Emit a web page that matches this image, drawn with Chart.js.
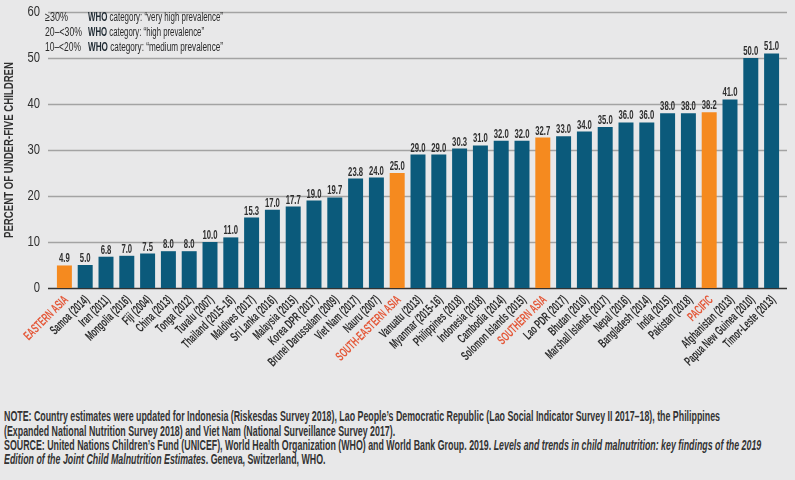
<!DOCTYPE html>
<html>
<head>
<meta charset="utf-8">
<script src="https://cdn.jsdelivr.net/npm/chart.js@4.4.1/dist/chart.umd.min.js"></script>
<style>
  html, body { margin: 0; padding: 0; background: #e8e8e9; }
  body { width: 795px; height: 480px; position: relative; overflow: hidden;
         font-family: 'Liberation Sans', Arial, sans-serif; color: #2f2f2f; }
  #wrap { position: absolute; left: 0; top: 0; width: 795px; height: 385px; }
  .sq { position: absolute; white-space: nowrap; transform-origin: 0 0; }
  .leg { font-size: 12.5px; line-height: 13px; color: #2a2a2a; }
  .leg b { font-weight: bold; color: #1f2a33; }
  .note { font-size: 14px; line-height: 15px; color: #333; font-weight: bold; left: 4px; }
  .note i { font-weight: bold; }
</style>
</head>
<body>
<div id="wrap"><canvas id="chart"></canvas></div>

<div class="sq leg" data-w="23" style="left:45px; top:11px">≥30%</div>
<div class="sq leg" data-w="135" style="left:88px; top:11px"><b>WHO</b> category: “very high prevalence”</div>
<div class="sq leg" data-w="37" style="left:45px; top:26px">20–&lt;30%</div>
<div class="sq leg" data-w="116" style="left:88px; top:26px"><b>WHO</b> category: “high prevalence”</div>
<div class="sq leg" data-w="36" style="left:45px; top:41px">10–&lt;20%</div>
<div class="sq leg" data-w="135" style="left:88px; top:41px"><b>WHO</b> category: “medium prevalence”</div>

<div class="sq note" id="n1" style="top:409px">NOTE: Country estimates were updated for Indonesia (Riskesdas Survey 2018), Lao People’s Democratic Republic (Lao Social Indicator Survey II 2017–18), the Philippines</div>
<div class="sq note" style="top:423.5px">(Expanded National Nutrition Survey 2018) and Viet Nam (National Surveillance Survey 2017).</div>
<div class="sq note" style="top:438px">SOURCE: United Nations Children’s Fund (UNICEF), World Health Organization (WHO) and World Bank Group. 2019. <i>Levels and trends in child malnutrition: key findings of the 2019</i></div>
<div class="sq note" style="top:452px"><i>Edition of the Joint Child Malnutrition Estimates</i>. Geneva, Switzerland, WHO.</div>

<script>
// categories, left to right
const categories = [
  'EASTERN ASIA', 'Samoa (2014)', 'Iran (2011)', 'Mongolia (2016)', 'Fiji (2004)', 'China (2013)',
  'Tonga (2012)', 'Tuvalu (2007)', 'Thailand (2015–16)', 'Maldives (2017)', 'Sri Lanka (2016)',
  'Malaysia (2015)', 'Korea DPR (2017)', 'Brunei Darussalam (2009)', 'Viet Nam (2017)', 'Nauru (2007)',
  'SOUTH-EASTERN ASIA', 'Vanuatu (2013)', 'Myanmar (2015-16)', 'Philippines (2018)', 'Indonesia (2018)',
  'Cambodia (2014)', 'Solomon Islands (2015)', 'SOUTHERN ASIA', 'Lao PDR (2017)', 'Bhutan (2010)',
  'Marshall Islands (2017)', 'Nepal (2016)', 'Bangladesh (2014)', 'India (2015)', 'Pakistan (2018)',
  'PACIFIC', 'Afghanistan (2013)', 'Papua New Guinea (2010)', 'Timor-Leste (2013)'
];
// percent of under-five children stunted
const values = [
  4.9, 5.0, 6.8, 7.0, 7.5, 8.0,
  8.0, 10.0, 11.0, 15.3, 17.0,
  17.7, 19.0, 19.7, 23.8, 24.0,
  25.0, 29.0, 29.0, 30.3, 31.0,
  32.0, 32.0, 32.7, 33.0, 34.0,
  35.0, 36.0, 36.0, 38.0, 38.0,
  38.2, 41.0, 50.0, 51.0
];
// regional aggregates (drawn orange)
const regions = ['EASTERN ASIA', 'SOUTH-EASTERN ASIA', 'SOUTHERN ASIA', 'PACIFIC'];
const yTicks = [0, 10, 20, 30, 40, 50, 60];

const FONT = "'Liberation Sans', Arial, sans-serif";
const TEAL = '#0b5a7b';
const ORANGE = '#f58a1f';
const RED_LABEL = '#e4593a';
const TEXT = '#2f2f2f';

const isRegion = categories.map(c => regions.includes(c));

// squeeze the html text horizontally to mimic the condensed face
document.querySelectorAll('.leg').forEach(el => {
  const w = el.getBoundingClientRect().width;
  el.style.transform = 'scaleX(' + (el.dataset.w / w) + ')';
});
const noteScale = 716 / document.getElementById('n1').getBoundingClientRect().width;
document.querySelectorAll('.note').forEach(el => { el.style.transform = 'scaleX(' + noteScale + ')'; });

// condensed text on the canvas: scale x by factor sx around the anchor
function condText(ctx, text, x, y, sx, rot) {
  ctx.save();
  ctx.translate(x, y);
  if (rot) ctx.rotate(rot);
  ctx.scale(sx, 1);
  ctx.fillText(text, 0, 0);
  ctx.restore();
}

// grid lines drawn across the full frame, behind the bars
const gridPlugin = {
  id: 'gridFull',
  beforeDatasetsDraw(chart) {
    const ctx = chart.ctx, y = chart.scales.y;
    ctx.save();
    yTicks.forEach(v => {
      const py = Math.round(y.getPixelForValue(v)) + 0.5;
      ctx.beginPath();
      ctx.moveTo(48, py);
      ctx.lineTo(787, py);
      ctx.lineWidth = v === 0 ? 1.6 : 1.3;
      ctx.strokeStyle = v === 0 ? '#333333' : '#a3a3a3';
      ctx.stroke();
    });
    ctx.restore();
  }
};

// all axis text and value labels, drawn condensed
const textPlugin = {
  id: 'condensedText',
  afterDatasetsDraw(chart) {
    const ctx = chart.ctx;
    const xs = chart.scales.x, ys = chart.scales.y;
    const meta = chart.getDatasetMeta(0);
    ctx.save();

    // value labels
    ctx.font = 'bold 13px ' + FONT;
    ctx.fillStyle = TEXT;
    ctx.textAlign = 'center';
    ctx.textBaseline = 'alphabetic';
    const vs = 15 / ctx.measureText('50.0').width;
    meta.data.forEach((bar, i) => condText(ctx, values[i].toFixed(1), bar.x, bar.y - 3, vs, 0));

    // y tick labels
    ctx.font = '14px ' + FONT;
    ctx.textAlign = 'right';
    ctx.textBaseline = 'middle';
    const ts = 12.5 / ctx.measureText('30').width;
    yTicks.forEach(v => condText(ctx, String(v), 40, ys.getPixelForValue(v), ts, 0));

    // y title
    ctx.font = 'bold 12.5px ' + FONT;
    ctx.textAlign = 'center';
    const title = 'PERCENT OF UNDER-FIVE CHILDREN';
    const tsx = 176 / ctx.measureText(title).width;
    condText(ctx, title, 10, (ys.top + ys.bottom) / 2, tsx, -Math.PI / 2);

    // x category labels, rotated 45 degrees, ending under each bar
    ctx.font = 'bold 13px ' + FONT;
    ctx.textAlign = 'right';
    ctx.textBaseline = 'middle';
    const xsx = 93 / ctx.measureText('Papua New Guinea (2010)').width;
    categories.forEach((c, i) => {
      ctx.fillStyle = isRegion[i] ? RED_LABEL : TEXT;
      condText(ctx, c, xs.getPixelForValue(i) + 2, ys.bottom + 10, xsx, -Math.PI / 4);
    });
    ctx.restore();
  }
};

new Chart(document.getElementById('chart'), {
  type: 'bar',
  data: {
    labels: categories,
    datasets: [{
      data: values,
      backgroundColor: isRegion.map(r => r ? ORANGE : TEAL),
      borderWidth: 0,
      barPercentage: 0.72,
      categoryPercentage: 1.0
    }]
  },
  options: {
    responsive: true,
    maintainAspectRatio: false,
    animation: false,
    layout: { padding: { top: 12, right: 13, bottom: 5, left: 0 } },
    plugins: { legend: { display: false }, tooltip: { enabled: false } },
    scales: {
      x: {
        grid: { display: false, drawTicks: false },
        border: { display: false },
        ticks: { display: false },
        afterFit: s => { s.height = 92; }
      },
      y: {
        min: 0,
        max: 60,
        grid: { display: false, drawTicks: false },
        border: { display: false },
        ticks: { display: false, stepSize: 10 },
        afterFit: s => { s.width = 54; }
      }
    }
  },
  plugins: [gridPlugin, textPlugin]
});
</script>
</body>
</html>
